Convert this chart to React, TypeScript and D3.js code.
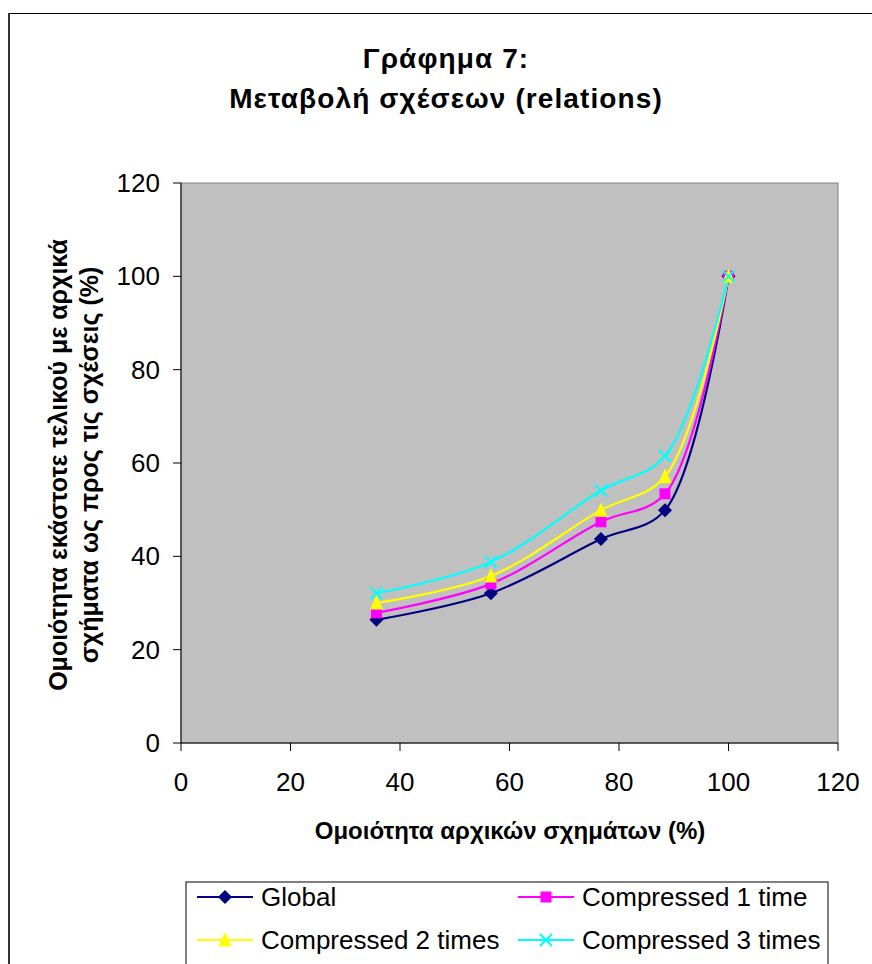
import React from "react";
import * as d3 from "d3";

const xValues = [35.7, 56.6, 76.7, 88.4, 100];
const globalValues = [26.4, 32.1, 43.7, 49.9, 100];
const compressed1Values = [27.9, 34.1, 47.4, 53.4, 100];
const compressed2Values = [30.0, 35.8, 49.9, 57.1, 100];
const compressed3Values = [32.1, 38.8, 54.1, 61.5, 100];
const seriesNames = ["Global", "Compressed 1 time", "Compressed 2 times", "Compressed 3 times"];
const tickValues = [0, 20, 40, 60, 80, 100, 120];

const titleLines = ["Γράφημα 7:", "Μεταβολή σχέσεων (relations)"];
const xTitle = "Ομοιότητα αρχικών σχημάτων (%)";
const yTitleLines = ["Ομοιότητα εκάστοτε τελικού με αρχικά", "σχήματα ως προς τις σχέσεις (%)"];

const colors = ["#000080", "#FF00FF", "#FFFF00", "#00FFFF"];
const markerTypes = ["diamond", "square", "triangle", "x"];

const W = 872;
const H = 964;
const plot = { left: 181, top: 183, right: 838, bottom: 743 };
const FONT = "'Liberation Sans', Arial, sans-serif";

function Marker({ type, x, y, color }: { type: string; x: number; y: number; color: string }) {
  if (type === "diamond") {
    const s = 7;
    return <path d={`M${x},${y - s}L${x + s},${y}L${x},${y + s}L${x - s},${y}Z`} fill={color} />;
  }
  if (type === "square") {
    const s = 5.5;
    return <rect x={x - s} y={y - s} width={2 * s} height={2 * s} fill={color} />;
  }
  if (type === "triangle") {
    const s = 6.5;
    return <path d={`M${x},${y - s - 1.5}L${x + s},${y + s}L${x - s},${y + s}Z`} fill={color} />;
  }
  const s = 6;
  return (
    <path
      d={`M${x - s},${y - s}L${x + s},${y + s}M${x - s},${y + s}L${x + s},${y - s}`}
      stroke={color}
      strokeWidth={2}
      fill="none"
    />
  );
}

export default function App() {
  const xScale = d3.scaleLinear().domain([0, 120]).range([plot.left, plot.right]);
  const yScale = d3.scaleLinear().domain([0, 120]).range([plot.bottom, plot.top]);
  const allSeries = [globalValues, compressed1Values, compressed2Values, compressed3Values];

  const line = d3
    .line<[number, number]>()
    .x((d) => xScale(d[0]))
    .y((d) => yScale(d[1]))
    .curve(d3.curveCatmullRom.alpha(0.5));

  const legendEntries = [
    { i: 0, lx: 197, ly: 897 },
    { i: 1, lx: 518, ly: 897 },
    { i: 2, lx: 197, ly: 940 },
    { i: 3, lx: 518, ly: 940 },
  ];

  return (
    <svg
      width={W}
      height={H}
      style={{ position: "absolute", left: 0, top: 0, background: "#fff" }}
      fontFamily={FONT}
    >
      {/* outer chart border */}
      <rect x={9} y={13.5} width={W + 20} height={H + 20} fill="#fff" stroke="#000" strokeWidth={1} />
      <line x1={9} y1={13} x2={9} y2={H} stroke="#333" strokeWidth={2} />

      {/* title */}
      {titleLines.map((t, i) => (
        <text
          key={i}
          x={446}
          y={68 + i * 40}
          textAnchor="middle"
          fontSize={28}
          fontWeight="bold"
          letterSpacing={1.1}
          fill="#000"
        >
          {t}
        </text>
      ))}

      {/* plot area */}
      <rect
        x={plot.left}
        y={plot.top}
        width={plot.right - plot.left}
        height={plot.bottom - plot.top}
        fill="#C0C0C0"
        stroke="#808080"
        strokeWidth={1}
      />

      {/* y axis */}
      <line x1={plot.left} y1={plot.top} x2={plot.left} y2={plot.bottom} stroke="#000" strokeWidth={1} />
      {tickValues.map((v) => (
        <g key={"y" + v}>
          <line x1={plot.left - 8} x2={plot.left} y1={yScale(v)} y2={yScale(v)} stroke="#000" />
          <text x={160} y={yScale(v) + 9} textAnchor="end" fontSize={26} fill="#000">
            {v}
          </text>
        </g>
      ))}

      {/* x axis */}
      <line x1={plot.left} y1={plot.bottom} x2={plot.right} y2={plot.bottom} stroke="#000" strokeWidth={1} />
      {tickValues.map((v) => (
        <g key={"x" + v}>
          <line x1={xScale(v)} x2={xScale(v)} y1={plot.bottom} y2={plot.bottom + 8} stroke="#000" />
          <text x={xScale(v)} y={791} textAnchor="middle" fontSize={26} fill="#000">
            {v}
          </text>
        </g>
      ))}

      {/* axis titles */}
      <text x={510} y={839} textAnchor="middle" fontSize={24} fontWeight="bold" fill="#000">
        {xTitle}
      </text>
      {yTitleLines.map((t, i) => (
        <text
          key={i}
          transform={`translate(${67 + i * 31},${465}) rotate(-90)`}
          textAnchor="middle"
          fontSize={25}
          fontWeight="bold"
          fill="#000"
        >
          {t}
        </text>
      ))}

      {/* series */}
      {allSeries.map((vals, si) => {
        const pts = xValues.map((x, j) => [x, vals[j]] as [number, number]);
        return (
          <g key={si}>
            <path d={line(pts) || ""} fill="none" stroke={colors[si]} strokeWidth={2.2} />
          </g>
        );
      })}
      {allSeries.map((vals, si) => (
        <g key={"m" + si}>
          {xValues.map((x, j) => (
            <Marker key={j} type={markerTypes[si]} x={xScale(x)} y={yScale(vals[j])} color={colors[si]} />
          ))}
        </g>
      ))}

      {/* legend */}
      <rect x={186} y={882} width={642} height={100} fill="#fff" stroke="#000" strokeWidth={1} />
      {legendEntries.map(({ i, lx, ly }) => (
        <g key={"l" + i}>
          <line x1={lx} x2={lx + 56} y1={ly} y2={ly} stroke={colors[i]} strokeWidth={2} />
          <Marker type={markerTypes[i]} x={lx + 28} y={ly} color={colors[i]} />
          <text x={lx + 64} y={ly + 9} fontSize={26} fill="#000">
            {seriesNames[i]}
          </text>
        </g>
      ))}
    </svg>
  );
}
